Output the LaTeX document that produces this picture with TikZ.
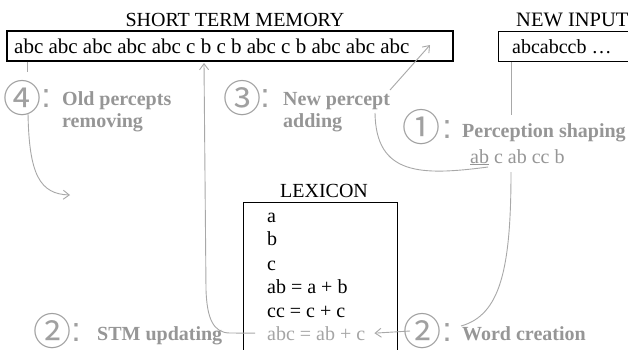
\documentclass[tikz,border=0pt]{standalone}
\usepackage{fontspec}
\setmainfont{Liberation Serif}
\newfontfamily\cjk{Noto Sans CJK SC}
\newfontfamily\colfont{Liberation Sans}
\usetikzlibrary{arrows.meta}
\definecolor{lblc}{RGB}{150,150,150}
\definecolor{numc}{RGB}{160,160,160}
\definecolor{lnc}{RGB}{168,168,168}
\definecolor{grayt}{RGB}{165,165,165}
\newcommand{\circnum}[1]{\makebox[20pt][c]{#1}}
\begin{document}
\begin{tikzpicture}[x=1pt,y=-1pt,
  box/.style={draw=black, line width=1.2pt, inner sep=0pt, fill=none},
  ttl/.style={inner sep=0pt, font=\fontsize{20}{24}\selectfont},
  body/.style={inner sep=0pt, anchor=base west, font=\fontsize{20}{24}\selectfont},
  lbl/.style={inner sep=0pt, anchor=base west, text=lblc, font=\bfseries\fontsize{20}{22}\selectfont},
  num/.style={inner sep=0pt, text=numc, font=\cjk\fontsize{38}{38}\selectfont},
  colon/.style={inner sep=0pt, text=numc, font=\colfont\fontsize{34}{34}\selectfont},
  conn/.style={draw=lnc, line width=0.9pt},
  tip/.style={-{Straight Barb[length=6pt,width=9pt]}}
]
\clip (0,0) rectangle (628,349);
\fill[white] (0,0) rectangle (628,349);

% short term memory
\node[box, minimum width=446pt, minimum height=30pt] (stm) at (230,46) {};
\node[ttl, anchor=base] (stmt) at (235,26) {SHORT TERM MEMORY};
\node[body, font=\fontsize{21}{24}\selectfont] (stmx) at (14,53) {abc abc abc abc abc c b c b abc c b abc abc abc};

% new input
\node[box, minimum width=150pt, minimum height=30pt, anchor=north west] (inp) at (498,31) {};
\node[ttl, anchor=base west, font=\fontsize{20.5}{24}\selectfont] (inpt) at (516,26) {NEW INPUT};
\node[body] (inpx) at (512,53) {abcabccb …};

% lexicon
\node[box, minimum width=154pt, minimum height=170pt, anchor=north west] (lex) at (243,202) {};
\node[ttl, anchor=base] (lext) at (324,197) {LEXICON};
\node[body] (lx1) at (267,222) {a};
\node[body] (lx2) at (267,245) {b};
\node[body] (lx3) at (267,270) {c};
\node[body] (lx4) at (267,293) {ab = a + b};
\node[body] (lx5) at (267,317) {cc = c + c};
\node[body, text=grayt] (lx6) at (267,340) {abc = ab + c};

% labels
\node[num] (n4) at (22,98) {\circnum{④}};
\node[colon] (c4) at (46,99) {:};
\node[lbl] (l4a) at (62,105) {Old percepts};
\node[lbl] (l4b) at (62,127) {removing};

\node[num] (n3) at (242,98) {\circnum{③}};
\node[colon] (c3) at (265,99) {:};
\node[lbl] (l3a) at (283,105) {New percept};
\node[lbl] (l3b) at (283,127) {adding};

\node[num] (n1) at (421,127) {\circnum{①}};
\node[colon] (c1) at (447,130) {:};
\node[lbl] (l1) at (462,137) {Perception shaping};
\node[body, text=lblc] (seq) at (470,163) {\underline{ab} c ab cc b};

\node[num] (n2w) at (422,331) {\circnum{②}};
\node[colon] (c2w) at (447,333) {:};
\node[lbl] (l2w) at (462,340) {Word creation};

\node[num] (n2s) at (52,331) {\circnum{②}};
\node[colon] (c2s) at (76,333) {:};
\node[lbl] (l2s) at (97,340) {STM updating};

% connectors
\coordinate (a4top) at (27,72);
\draw[conn] (stm.south -| a4top) -- (a4top);
\coordinate (a4s) at (28,113);
\coordinate (a4e) at (70,195);
\draw[conn,tip] (a4s) .. controls (29,175) and (40,194) .. (a4e);

\coordinate (t2) at (204,63);
\draw[conn,tip] ([xshift=-12pt]lx6.west) -- (230,333) .. controls (213,333) and (207,318) .. (206,290) -- (t2);

\coordinate (p3s) at (390,90);
\coordinate (p3e) at (430,45);
\draw[conn,tip] (p3s) -- (p3e);
\coordinate (ab1) at (488,167);
\coordinate (p3c) at (375,113);
\draw[conn] (ab1) .. controls (420,176) and (376,175) .. (p3c);

\coordinate (i1) at (511,115);
\draw[conn] (inp.south -| i1) -- (i1);

\coordinate (w1) at (511,172);
\coordinate (w2) at (461,326);
\draw[conn] (w1) .. controls (511,270) and (500,315) .. (w2);
\draw[conn,tip] ([xshift=-12pt]n2w.center) -- ([xshift=9pt]lx6.east);
\end{tikzpicture}
\end{document}
